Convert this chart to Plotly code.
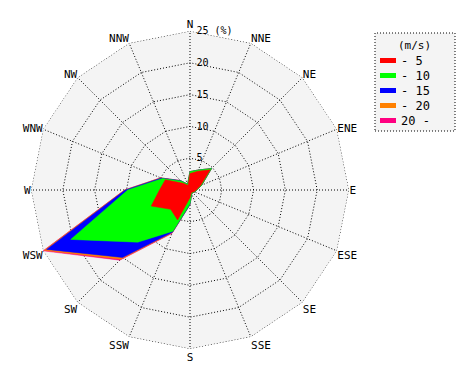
import plotly.graph_objects as go

directions = ["N", "NNE", "NE", "ENE", "E", "ESE", "SE", "SSE",
              "S", "SSW", "SW", "WSW", "W", "WNW", "NW", "NNW"]

# cumulative frequency (%) for each speed class
cum_5 = [2.6, 3.2, 4.5, 1.8, 1.0, 0.7, 0.5, 0.5, 1.2, 5.1, 4.3, 6.6, 4.8, 4.2, 1.5, 0.8]
cum_10 = [2.9, 3.4, 4.8, 2.0, 1.1, 0.8, 0.6, 0.7, 2.2, 7.0, 11.6, 20.3, 9.8, 4.7, 2.0, 1.0]
cum_15 = [2.9, 3.4, 4.8, 2.0, 1.1, 0.8, 0.6, 0.7, 2.3, 7.2, 15.0, 24.4, 10.2, 4.9, 2.1, 1.0]
cum_20 = [2.9, 3.4, 4.8, 2.0, 1.1, 0.8, 0.6, 0.7, 2.3, 7.3, 15.4, 24.8, 10.3, 5.0, 2.1, 1.0]
cum_all = [2.9, 3.4, 4.8, 2.0, 1.1, 0.8, 0.6, 0.7, 2.3, 7.4, 15.6, 25.0, 10.3, 5.0, 2.1, 1.0]

series_names = ["- 5", "- 10", "- 15", "- 20", "20 -"]
series_colors = ["#ff0000", "#00ff00", "#0000ff", "#ff8000", "#ff0080"]
series_values = [cum_5, cum_10, cum_15, cum_20, cum_all]

radial_ticks = [5, 10, 15, 20, 25]
radial_ticktext = [" 5", " 10", " 15", " 20", " 25 (%)"]
legend_title = "(m/s)"

FONT = "DejaVu Sans Mono"
DOTS = "1px,2px"

fig = go.Figure()
# draw the widest (cumulative) layer first
for name, color, vals in reversed(list(zip(series_names, series_colors, series_values))):
    fig.add_trace(go.Scatterpolar(
        r=vals + vals[:1],
        theta=directions + directions[:1],
        mode="lines",
        fill="toself",
        fillcolor=color,
        line=dict(color=color, width=0.5),
        name=name,
        hoverinfo="skip",
        showlegend=False,
    ))

# outer dotted frame at the top of the radial scale
rmax = radial_ticks[-1]
fig.add_trace(go.Scatterpolar(
    r=[rmax] * (len(directions) + 1),
    theta=directions + directions[:1],
    mode="lines",
    line=dict(color="black", width=1, dash=DOTS),
    hoverinfo="skip",
    showlegend=False,
))

W, H = 470, 380
cx, cy, R = 190, 190, 159

# manual legend (box, title, swatches, labels)
shapes = [dict(
    type="rect", xref="paper", yref="paper",
    x0=375 / W, x1=455 / W, y0=1 - 131 / H, y1=1 - 33 / H,
    line=dict(color="black", width=1, dash=DOTS),
    fillcolor="#f4f4f4", layer="below",
)]
annotations = [dict(
    text=legend_title, xref="paper", yref="paper",
    x=414 / W, y=1 - 45 / H, xanchor="center", yanchor="middle",
    showarrow=False, font=dict(family=FONT, size=11),
)]
for i, (name, color) in enumerate(zip(series_names, series_colors)):
    yc = 60.5 + 15 * i
    shapes.append(dict(
        type="rect", xref="paper", yref="paper",
        x0=380 / W, x1=396 / W, y0=1 - (yc + 2.5) / H, y1=1 - (yc - 2.5) / H,
        line=dict(width=0), fillcolor=color,
    ))
    annotations.append(dict(
        text=name, xref="paper", yref="paper",
        x=399 / W, y=1 - yc / H, xanchor="left", yanchor="middle",
        showarrow=False, font=dict(family=FONT, size=12),
    ))

fig.update_layout(
    width=W, height=H,
    margin=dict(l=0, r=0, t=0, b=0),
    paper_bgcolor="white",
    font=dict(family=FONT, size=11, color="black"),
    showlegend=False,
    shapes=shapes,
    annotations=annotations,
    polar=dict(
        domain=dict(x=[(cx - R) / W, (cx + R) / W], y=[(H - cy - R) / H, (H - cy + R) / H]),
        bgcolor="#f4f4f4",
        gridshape="linear",
        angularaxis=dict(
            direction="clockwise", rotation=90,
            type="category",
            categoryorder="array", categoryarray=directions,
            showline=False,
            showgrid=True, gridcolor="black", griddash=DOTS, gridwidth=1,
            ticks="",
            tickfont=dict(family=FONT, size=11),
        ),
        radialaxis=dict(
            range=[0, rmax],
            tickvals=radial_ticks, ticktext=radial_ticktext,
            angle=90, tickangle=90,
            showline=False,
            showgrid=True, gridcolor="black", griddash=DOTS, gridwidth=1,
            ticks="",
            tickfont=dict(family=FONT, size=10),
        ),
    ),
)

fig.write_html("out.html", config={"displayModeBar": False},
               post_script="document.body.style.margin='0px';")
